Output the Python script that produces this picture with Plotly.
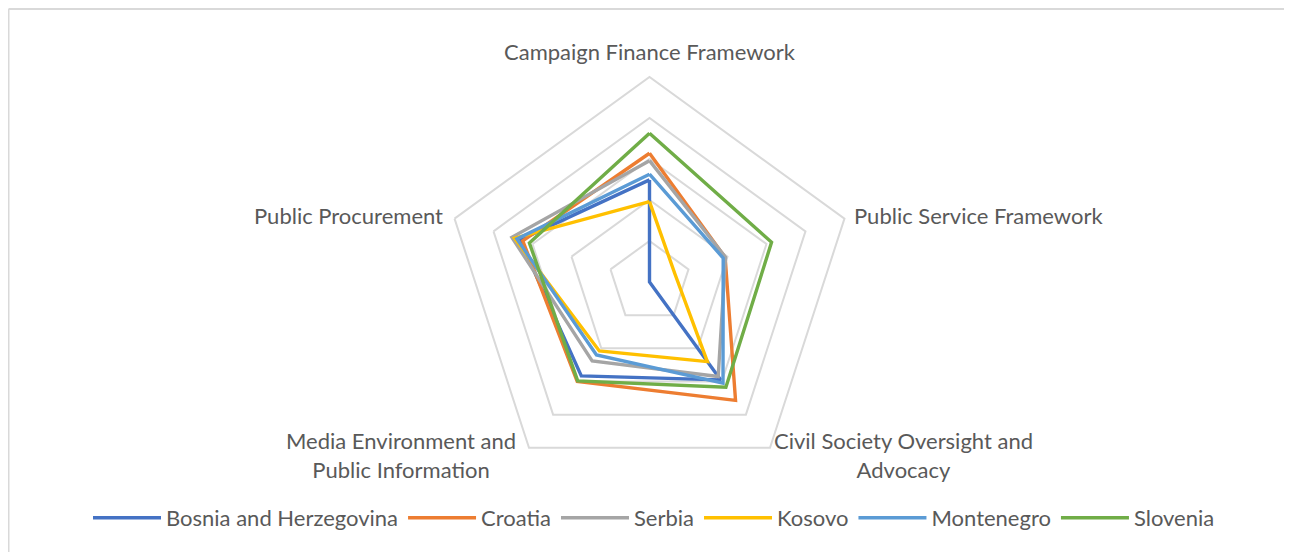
import plotly.graph_objects as go

categories = [
    "Campaign Finance Framework",
    "Public Service Framework",
    "Civil Society Oversight and<br>Advocacy",
    "Media Environment and<br>Public Information",
    "Public Procurement",
]

bosnia = [2.49, 0.0, 2.95, 2.83, 3.32]
croatia = [3.14, 1.94, 3.57, 3.00, 3.25]
serbia = [2.96, 1.95, 2.85, 2.38, 3.53]
kosovo = [1.96, 0.65, 2.40, 2.08, 3.46]
montenegro = [2.63, 1.89, 3.05, 2.20, 3.40]
slovenia = [3.63, 3.13, 3.17, 2.98, 3.08]

series = [
    ("Bosnia and Herzegovina", bosnia, "#4472C4"),
    ("Croatia", croatia, "#ED7D31"),
    ("Serbia", serbia, "#A5A5A5"),
    ("Kosovo", kosovo, "#FFC000"),
    ("Montenegro", montenegro, "#5B9BD5"),
    ("Slovenia", slovenia, "#70AD47"),
]

FONT = "Lato, Carlito, Calibri, sans-serif"
TXT = "#595959"
GRID = "#D9D9D9"

W, H = 1292, 552
ml, mr, mt, mb = 10, 19, 69, 73
PW, PH = W - ml - mr, H - mt - mb


def px(x):
    return (x - ml) / PW


def py(y):
    return (H - mb - y) / PH


fig = go.Figure()
for name, vals, color in series:
    fig.add_trace(go.Scatterpolar(
        r=vals + vals[:1],
        theta=categories + categories[:1],
        mode="lines",
        name=name,
        line=dict(color=color, width=3.4),
    ))

# category labels placed around the pentagon (layout positions)
label_pos = [
    (642, 44, "center"),
    (844, 207, "left"),
    (895.5, 446.5, "center"),
    (392.5, 446.5, "center"),
    (437, 207, "right"),
]
annotations = []
for cat, (x, y, anc) in zip(categories, label_pos):
    annotations.append(dict(
        text=cat, x=px(x), y=py(y), xref="paper", yref="paper",
        xanchor=anc, yanchor="middle", align="center", showarrow=False,
        font=dict(family=FONT, size=22, color=TXT),
    ))

fig.update_layout(
    width=W, height=H,
    margin=dict(l=ml, r=mr, t=mt, b=mb, autoexpand=False),
    paper_bgcolor="white",
    plot_bgcolor="white",
    font=dict(family=FONT, size=22, color=TXT),
    polar=dict(
        bgcolor="white",
        gridshape="linear",
        radialaxis=dict(
            range=[0, 5], dtick=1, showticklabels=False, ticks="",
            showline=False, gridcolor=GRID, gridwidth=2,
        ),
        angularaxis=dict(
            type="category", rotation=90, direction="clockwise",
            showgrid=False, showline=True, linecolor=GRID, linewidth=2,
            ticks="", showticklabels=False,
        ),
    ),
    legend=dict(
        orientation="h",
        x=px(646), xanchor="center",
        y=py(510), yanchor="middle",
        font=dict(family=FONT, size=22, color=TXT),
        itemwidth=68,
        bgcolor="rgba(0,0,0,0)",
    ),
    annotations=annotations,
    shapes=[
        dict(type="line", xref="paper", yref="paper",
             x0=px(0.5), x1=px(W + 40), y0=py(1), y1=py(1),
             line=dict(color=GRID, width=2), layer="below"),
        dict(type="line", xref="paper", yref="paper",
             x0=px(0.5), x1=px(0.5), y0=py(1), y1=py(H + 40),
             line=dict(color=GRID, width=2), layer="below"),
    ],
)

fig.write_html("out.html")
